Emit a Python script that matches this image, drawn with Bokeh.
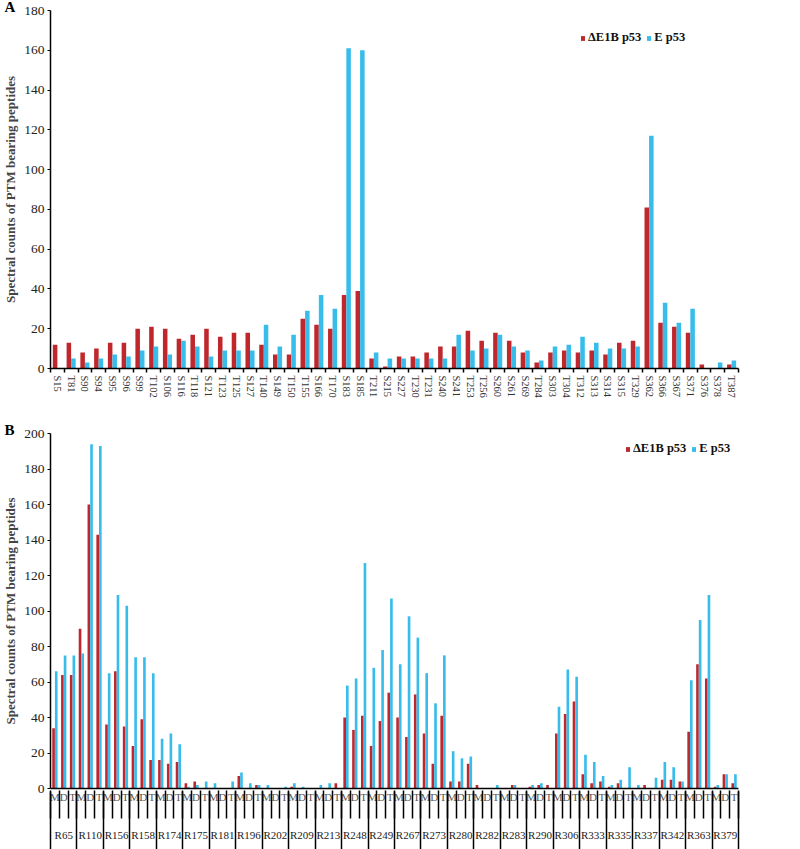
from bokeh.plotting import figure
from bokeh.layouts import column
from bokeh.models import (Range1d, FixedTicker, LinearAxis, Legend, LegendItem,
                          ColumnDataSource)
from bokeh.transform import dodge
from bokeh.embed import file_html
from bokeh.resources import INLINE

# ---------------- Panel A data ----------------
sites_a = ["S15", "T81", "S90", "S94", "S95", "S96", "S99", "T102", "S106", "S116",
           "T118", "S121", "T123", "T125", "S127", "T140", "S149", "T150", "T155", "S166",
           "T170", "S183", "S185", "T211", "S215", "S227", "T230", "T231", "S240", "S241",
           "T253", "T256", "S260", "S261", "S269", "T284", "S303", "T304", "T312", "S313",
           "S314", "S315", "T329", "S362", "S366", "S367", "S371", "S376", "S378", "T387"]
de1b_a = [12, 13, 8, 10, 13, 13, 20, 21, 20, 15,
          17, 20, 16, 18, 18, 12, 7, 7, 25, 22,
          20, 37, 39, 5, 1, 6, 6, 8, 11, 11,
          19, 14, 18, 14, 8, 3, 8, 9, 8, 9,
          7, 13, 14, 81, 23, 21, 18, 2, 0, 2]
e_a = [0, 5, 3, 5, 7, 6, 9, 11, 7, 14,
       11, 6, 9, 9, 9, 22, 11, 17, 29, 37,
       30, 161, 160, 8, 5, 5, 5, 5, 5, 17,
       9, 10, 17, 11, 9, 4, 11, 12, 16, 13,
       10, 10, 11, 117, 33, 23, 30, 0, 3, 4]
yticks_a = [0, 20, 40, 60, 80, 100, 120, 140, 160, 180]

# ---------------- Panel B data ----------------
groups_b = ["R65", "R110", "R156", "R158", "R174", "R175", "R181", "R196", "R202",
            "R209", "R213", "R248", "R249", "R267", "R273", "R280", "R282", "R283",
            "R290", "R306", "R333", "R335", "R337", "R342", "R363", "R379"]
subs_b = ["M", "D", "T"]
de1b_b = [34, 64, 64,   90, 160, 143,   36, 66, 35,   24, 39, 16,   16, 14, 15,
          3, 4, 0,   0, 0, 0,   7, 0, 2,   0, 0, 0,   1, 0, 0,   0, 0, 3,
          40, 33, 41,   24, 38, 54,   40, 29, 53,   31, 14, 41,   4, 4, 14,
          2, 0, 0,   0, 2, 0,   1, 2, 2,   31, 42, 49,   8, 3, 4,   1, 3, 0,
          0, 2, 0,   5, 5, 4,   32, 70, 62,   1, 8, 3]
e_b = [66, 75, 75,   76, 194, 193,   65, 109, 103,   74, 74, 65,   28, 31, 25,
       1, 2, 4,   3, 0, 4,   9, 3, 2,   2, 0, 1,   3, 1, 0,   2, 3, 0,
       58, 62, 127,   68, 78, 107,   70, 97, 85,   65, 48, 75,   21, 17, 18,
       0, 0, 2,   0, 2, 0,   2, 3, 0,   46, 67, 63,   19, 15, 7,   2, 5, 12,
       2, 0, 6,   15, 12, 4,   61, 95, 109,   2, 8, 8]
yticks_b = [0, 20, 40, 60, 80, 100, 120, 140, 160, 180, 200]

RED = "#C0272D"
BLUE = "#38BDEB"
FONT = "Liberation Serif"


def style_y(p, ticks):
    p.yaxis.ticker = FixedTicker(ticks=ticks)
    p.yaxis.axis_label = "Spectral counts of PTM bearing peptides"
    p.yaxis.axis_label_text_font = FONT
    p.yaxis.axis_label_text_font_style = "bold"
    p.yaxis.axis_label_text_font_size = "13px"
    p.yaxis.axis_label_standoff = 3
    p.yaxis.major_label_text_font = FONT
    p.yaxis.major_label_text_font_size = "13.5px"
    p.yaxis.major_label_text_color = "#222222"
    p.yaxis.major_label_standoff = 3
    p.yaxis.major_tick_out = 3
    p.yaxis.major_tick_in = 0
    p.yaxis.minor_tick_out = 0
    p.yaxis.minor_tick_in = 0
    p.yaxis.axis_line_width = 1.5
    p.yaxis.axis_line_color = "black"
    p.yaxis.major_tick_line_color = "black"


def make_fig(height, mb_top, mb_bottom, mb_right, n, ymax, panel):
    p = figure(width=800, height=height, output_backend="svg", toolbar_location=None,
               x_range=Range1d(-0.5, n - 0.5), y_range=Range1d(0, ymax),
               min_border_top=mb_top, min_border_bottom=mb_bottom,
               min_border_left=48, min_border_right=mb_right,
               x_axis_type=None)
    p.outline_line_color = None
    p.xgrid.visible = False
    p.ygrid.visible = False
    p.background_fill_color = "white"
    # panel letter as the plot title, pushed to the far left
    p.title.text = panel
    p.title.align = "left"
    p.title.offset = -46
    p.title.vertical_align = "bottom"
    p.title.standoff = -8
    p.title.text_font = FONT
    p.title.text_font_style = "bold"
    p.title.text_font_size = "15px"
    p.title.text_color = "black"
    return p


def style_legend(leg):
    leg.label_text_font = FONT
    leg.label_text_font_style = "bold"
    leg.label_text_font_size = "12.5px"
    leg.label_text_color = "#111111"
    leg.glyph_width = 5
    leg.glyph_height = 6
    leg.label_height = 14
    leg.label_standoff = 3
    leg.spacing = 5
    leg.padding = 0
    leg.margin = 0
    leg.border_line_color = None
    leg.background_fill_alpha = 0


# ---------------- Panel A ----------------
na = len(sites_a)
src_a = ColumnDataSource(dict(x=list(range(na)), r=de1b_a, b=e_a))
pa = make_fig(404, 8, 36, 62, na, 180, "A")
style_y(pa, yticks_a)
ra = pa.vbar(x=dodge("x", -0.165), top="r", width=0.33, source=src_a,
             fill_color=RED, line_color=None)
ba = pa.vbar(x=dodge("x", 0.165), top="b", width=0.33, source=src_a,
             fill_color=BLUE, line_color=None)

xa = LinearAxis(ticker=FixedTicker(ticks=list(range(na)),
                                   minor_ticks=[i - 0.5 for i in range(na + 1)]))
xa.major_label_overrides = {i: s for i, s in enumerate(sites_a)}
xa.major_label_orientation = "vertical"
xa.major_label_text_font = FONT
xa.major_label_text_font_size = "10.5px"
xa.major_label_text_color = "#333333"
xa.major_label_standoff = 3
xa.major_tick_out = 0
xa.major_tick_in = 0
xa.minor_tick_out = 4
xa.minor_tick_in = 0
xa.minor_tick_line_width = 1.5
xa.axis_line_width = 1.5
xa.axis_line_color = "black"
pa.add_layout(xa, "below")

leg_a = Legend(items=[LegendItem(label="ΔE1B p53", renderers=[ra]),
                      LegendItem(label="E p53", renderers=[ba])],
               orientation="horizontal", location=(530, 323))
style_legend(leg_a)
pa.add_layout(leg_a)

# ---------------- Panel B ----------------
sub_labels = [s for g in groups_b for s in subs_b]
nb = len(sub_labels)
ng = len(groups_b)
src_b = ColumnDataSource(dict(x=list(range(nb)), r=de1b_b, b=e_b))
pb = make_fig(445, 29, 59, 3, nb, 200, "B")
style_y(pb, yticks_b)
rb = pb.vbar(x=dodge("x", -0.15), top="r", width=0.3, source=src_b,
             fill_color=RED, line_color=None)
bb = pb.vbar(x=dodge("x", 0.15), top="b", width=0.3, source=src_b,
             fill_color=BLUE, line_color=None)

# axis 1: M / D / T labels, axis line
xb1 = LinearAxis(ticker=FixedTicker(ticks=list(range(nb)), minor_ticks=[]))
xb1.major_label_overrides = {i: s for i, s in enumerate(sub_labels)}
xb1.major_label_text_font = FONT
xb1.major_label_text_font_size = "11px"
xb1.major_label_text_color = "#555555"
xb1.major_label_standoff = 2
xb1.major_tick_out = 0
xb1.major_tick_in = 0
xb1.minor_tick_out = 0
xb1.minor_tick_in = 0
xb1.axis_line_width = 1.5
xb1.axis_line_color = "black"
pb.add_layout(xb1, "below")

# axis 2: group labels, short separators between sub-categories
xb2 = LinearAxis(ticker=FixedTicker(ticks=[3 * g + 1 for g in range(ng)],
                                    minor_ticks=[i - 0.5 for i in range(nb + 1)]))
xb2.major_label_overrides = {3 * g + 1: s for g, s in enumerate(groups_b)}
xb2.major_label_text_font = FONT
xb2.major_label_text_font_size = "11px"
xb2.major_label_text_color = "#222222"
xb2.major_label_standoff = 10
xb2.major_tick_out = 0
xb2.major_tick_in = 0
xb2.minor_tick_out = 13
xb2.minor_tick_in = 15
xb2.minor_tick_line_width = 1.5
xb2.axis_line_color = None
pb.add_layout(xb2, "below")

# axis 3: long separators between groups
xb3 = LinearAxis(ticker=FixedTicker(ticks=[3 * g - 0.5 for g in range(ng + 1)],
                                    minor_ticks=[]))
xb3.major_label_overrides = {3 * g - 0.5: "" for g in range(ng + 1)}
xb3.major_label_text_font_size = "1px"
xb3.major_label_standoff = 0
xb3.major_tick_out = 6
xb3.major_tick_in = 52
xb3.major_tick_line_width = 1.5
xb3.minor_tick_out = 0
xb3.minor_tick_in = 0
xb3.axis_line_color = None
pb.add_layout(xb3, "below")

leg_b = Legend(items=[LegendItem(label="ΔE1B p53", renderers=[rb]),
                      LegendItem(label="E p53", renderers=[bb])],
               orientation="horizontal", location=(575, 332))
style_legend(leg_b)
pb.add_layout(leg_b)

layout = column(pa, pb, spacing=0)
open("out.html", "w").write(file_html(layout, INLINE))
